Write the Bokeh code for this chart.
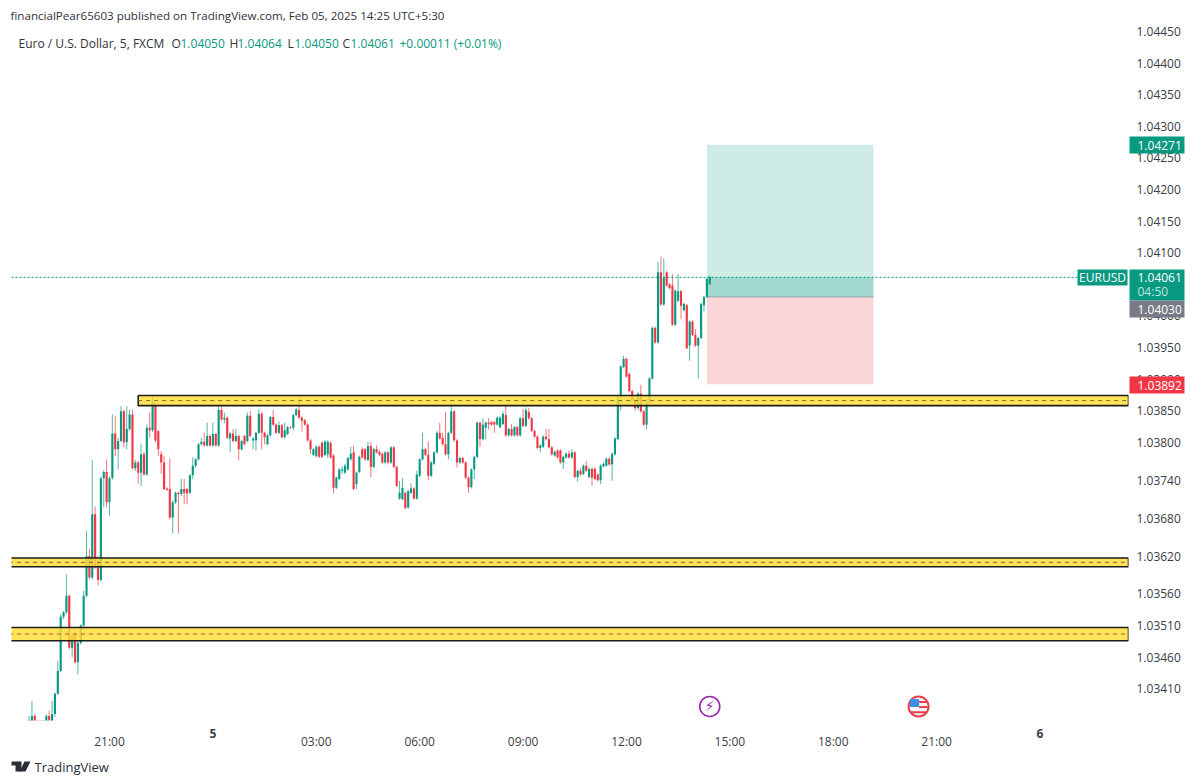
import numpy as np
from bokeh.plotting import figure
from bokeh.models import (Range1d, FixedTicker, NumeralTickFormatter, ColumnDataSource, LinearAxis)
from bokeh.core.properties import value
from bokeh.embed import file_html
from bokeh.resources import INLINE

# Prices: points above 1.03000, in units of 0.00001
opens = [350,358,367,355,352,350,352,367,355,370,
402,438,524,531,557,475,496,452,483,510,
557,620,586,686,612,582,743,753,705,743,
814,789,802,849,800,821,844,759,768,752,
781,749,823,819,860,818,781,768,727,726,
681,705,720,718,726,726,720,748,763,773,
797,801,795,810,795,813,795,851,836,839,
806,814,802,810,789,810,802,
842,803,803,815,845,815,797,811,840,828,815,827,808,813,824,823,843,851,839,835,828,803,780,778,793,799,780,781,799,779,
728,742,755,752,757,773,784,734,753,789,789,772,794,761,789,785,782,768,784,768,792,761,711,710,720,697,720,727,711,747,
773,789,780,747,766,784,815,807,797,781,815,849,803,768,775,768,744,729,757,777,831,805,823,831,832,832,828,824,829,843,
811,821,811,824,811,838,826,848,838,818,809,791,793,809,805,792,779,787,787,768,776,782,776,784,745,755,750,763,745,758,
758,749,740,762,763,774,765,781,805,872,919,932,908,881,866,854,877,849,828,863,901,981,958,1069,1018,1069,1050,1048,986,1024,
1039,1009,1017,953,991,970,953,965,1017,1030,1050]
highs = [367,391,370,358,356,354,370,375,391,404,
454,528,533,591,559,499,499,486,512,565,
660,631,772,698,620,746,756,773,746,844,
842,807,857,852,857,852,852,772,771,797,
785,828,847,873,862,819,786,778,729,775,
708,722,722,742,742,728,750,777,775,799,
807,815,831,812,831,815,857,857,847,841,
816,821,821,812,804,812,847,
850,808,817,852,848,817,813,842,851,830,833,829,831,826,826,845,854,873,841,837,830,805,791,795,795,802,803,803,802,781,
746,759,762,766,777,793,794,754,779,792,791,801,801,791,795,787,784,786,786,794,794,763,739,743,722,725,735,729,755,775,
815,791,801,770,786,818,831,815,848,817,861,851,805,777,777,770,746,759,779,833,833,838,833,838,834,834,841,841,849,858,
823,829,826,826,840,853,855,854,840,820,811,797,811,821,821,794,787,789,789,779,784,787,789,786,757,759,765,771,760,760,
760,751,765,768,776,776,784,808,874,922,937,934,910,883,868,879,891,851,865,903,983,983,1086,1094,1091,1071,1052,1066,1042,1066,
1041,1021,1019,993,993,979,967,1021,1032,1060,1064]
lows = [345,350,350,345,345,345,345,345,350,365,
400,436,520,528,473,460,450,433,480,508,
555,583,583,600,574,580,697,697,684,741,
778,757,800,792,789,818,757,755,734,731,
747,747,807,816,800,778,750,724,723,678,
656,702,656,715,702,702,718,742,760,771,
795,793,793,793,793,793,793,834,830,805,
784,800,800,771,787,795,800,
808,789,787,813,789,797,795,809,826,813,813,806,806,811,821,819,841,837,817,826,801,781,778,776,775,775,778,775,774,719,
726,740,750,750,755,771,724,726,751,774,771,770,745,759,782,778,766,766,766,766,759,729,709,708,694,695,718,709,709,745,
771,778,740,745,764,782,804,795,779,773,813,801,760,766,766,742,720,727,742,775,793,803,805,820,826,815,826,822,827,809,
809,809,809,809,809,824,824,836,816,807,789,784,791,803,790,779,777,774,766,758,774,774,774,743,738,747,748,753,743,731,
740,738,734,760,761,763,739,779,803,850,917,902,879,864,850,852,847,826,820,861,899,956,956,1016,1016,1046,1042,984,984,1022,
995,1007,947,929,968,951,900,963,1007,1028,1050]
closes = [358,367,355,352,350,352,367,355,370,402,
438,524,531,557,475,494,452,483,510,557,
620,586,686,602,582,743,753,705,743,814,
789,802,849,800,821,844,759,768,752,781,
749,823,819,865,803,789,768,726,725,681,
705,720,718,726,720,719,748,763,773,797,
801,795,810,795,813,795,851,836,839,807,
814,802,810,789,802,797,842,
810,806,815,845,815,808,811,840,828,815,827,808,819,824,823,843,852,839,834,828,803,789,789,793,777,777,801,801,776,728,
744,757,757,763,775,782,726,752,777,776,773,794,761,789,784,780,768,784,768,792,761,731,720,728,696,723,727,711,749,773,
789,780,747,768,784,815,806,797,781,815,849,803,768,775,768,744,729,757,777,831,805,828,831,829,828,828,839,839,845,811,
821,811,824,811,838,826,851,838,818,809,791,795,809,805,792,781,785,776,768,777,782,776,784,745,755,749,763,755,758,744,
742,740,763,766,774,765,782,806,872,920,932,904,881,866,854,877,849,828,863,901,981,958,1069,1018,1061,1048,1044,986,1040,1039,
1016,1019,949,991,970,953,965,1019,1030,1058,1061]
assert len(opens) == len(highs) == len(lows) == len(closes) == 238

first_bar = -1
price_ticks = [1.0445,1.0440,1.0435,1.0430,1.0425,1.0420,1.0415,1.0410,1.0400,1.0395,1.0390,
               1.0385,1.0380,1.0374,1.0368,1.0362,1.0356,1.0351,1.0346,1.0341]
time_ticks = [27, 99, 135, 171, 207, 243, 279, 315]
time_labels = ["21:00", "03:00", "06:00", "09:00", "12:00", "15:00", "18:00", "21:00"]
day_ticks = [63, 351]
day_labels = ["5", "6"]
zones = [(1.03858, 1.03874, 37), (1.03603, 1.03617, -8), (1.03486, 1.03507, -8)]
zone_dash_colors = ["#7d6a2c", "#8a6a2a", "#c4553a"]
last_price = 1.04061
entry_price = 1.04030
target_price = 1.04271
stop_price = 1.03892
box_left, box_right = 235, 293

GREEN, RED = "#089981", "#F23645"
FONT = "Open Sans"
AXIS_TEXT = "#3a3d46"
W, H = 1192, 775
X0, X1 = -7.12, 381.8

o, h, l, c = [1.03 + np.array(a) / 1e5 for a in (opens, highs, lows, closes)]
x = np.arange(len(o)) + first_bar
colors = np.where(c >= o, GREEN, RED)

p = figure(width=W, height=H, output_backend="svg", toolbar_location=None,
           x_range=Range1d(X0, X1), y_range=Range1d(1.033598, 1.044595),
           x_axis_location=None, y_axis_location=None,
           min_border_left=11, min_border_right=64, min_border_top=25, min_border_bottom=55)
p.grid.visible = False
p.outline_line_color = None
p.background_fill_color = "white"

# risk / reward box
p.quad(left=box_left, right=box_right, bottom=entry_price, top=target_price, fill_color=GREEN, fill_alpha=0.2, line_color=None)
p.quad(left=box_left, right=box_right, bottom=stop_price, top=entry_price, fill_color=RED, fill_alpha=0.2, line_color=None)
p.quad(left=box_left, right=box_right, bottom=entry_price, top=last_price, fill_color=GREEN, fill_alpha=0.22, line_color=None)
p.segment(box_left, entry_price, box_right, entry_price, line_color="#8a8d96", line_width=1, line_alpha=0.7)

# candles
src = ColumnDataSource(dict(x=x, o=o, h=h, l=l, c=c, col=colors))
p.segment("x", "l", "x", "h", source=src, line_color="col", line_width=1, line_alpha=0.7)
p.vbar("x", 0.74, "o", "c", source=src, fill_color="col", line_color=None)

# zones
for (z0, z1, zx), dash in zip(zones, zone_dash_colors):
    p.quad(left=zx, right=X1, bottom=z0, top=z1, fill_color="#FFDD33", fill_alpha=0.82,
           line_color="#1d1d1d", line_width=1.6)
    p.segment(zx, (z0 + z1) / 2, X1, (z0 + z1) / 2, line_color=dash, line_width=1, line_dash="4 4")

# last price line
p.segment(X0, last_price, X1, last_price, line_color=GREEN, line_width=1, line_dash="2 2")

# event markers
mark_y = 1.03382
bolt_x, flag_x = 236, 308.7
p.scatter([bolt_x], [mark_y], size=20, fill_color="white", line_color="#9c27b0", line_width=1.6)
p.text([bolt_x], [mark_y], text=["⚡"], text_color="#9c27b0", text_font_size="14px", text_align="center",
       text_baseline="middle", text_font=value("DejaVu Sans"))
p.scatter([flag_x], [mark_y], size=20, fill_color="#f6f6f6", line_color="#e8404f", line_width=2)
p.quad(left=[flag_x - 3], right=[flag_x + 0.2], bottom=[mark_y - 0.00001], top=[mark_y + 0.00012], fill_color="#3d8fe0", line_color=None)
p.segment([flag_x + 0.2, flag_x + 0.2], [mark_y + 0.00007, mark_y - 0.00001], [flag_x + 3.1, flag_x + 3.1],
          [mark_y + 0.00007, mark_y - 0.00001], line_color="#e8404f", line_width=2)
p.segment([flag_x - 2.7], [mark_y - 0.00009], [flag_x + 2.7], [mark_y - 0.00009], line_color="#e8404f", line_width=2)

# axes
ax_r = LinearAxis(ticker=FixedTicker(ticks=price_ticks), formatter=NumeralTickFormatter(format="0.00000"))
ax_b = LinearAxis(ticker=FixedTicker(ticks=time_ticks),
                  major_label_overrides={t: s for t, s in zip(time_ticks, time_labels)})
for ax in (ax_r, ax_b):
    ax.axis_line_color = None
    ax.major_tick_line_color = None
    ax.minor_tick_line_color = None
    ax.major_label_text_color = AXIS_TEXT
    ax.major_label_text_font = FONT
    ax.major_label_text_font_size = "12px"
ax_r.major_label_standoff = 2
ax_b.major_label_standoff = 6
p.add_layout(ax_r, "right")
p.add_layout(ax_b, "below")

# transparent overlay for what lies outside the plot frame
ov = figure(width=W, height=H, output_backend="svg", toolbar_location=None,
            x_range=Range1d(0, W), y_range=Range1d(H, 0), x_axis_location=None, y_axis_location=None,
            min_border=0, styles={"position": "absolute", "left": "0px", "top": "0px", "pointer-events": "none"})
ov.grid.visible = False
ov.outline_line_color = None
ov.background_fill_alpha = 0
ov.border_fill_alpha = 0


def label(text, px, py, color="#131722", size="12px", bold=False, align="left"):
    ov.text([px], [py], text=[text], text_color=color, text_font=value(FONT), text_font_size=size,
            text_font_style="bold" if bold else "normal", text_align=align, text_baseline="middle")


def box(x0, y0, x1, y1, color):
    ov.quad(left=[x0], right=[x1], top=[y0], bottom=[y1], fill_color=color, line_color=None)


# day ticks in bold
for t, s in zip(day_ticks, day_labels):
    label(s, 11 + (t - X0) / (X1 - X0) * 1117, 733, bold=True, align="center", color=AXIS_TEXT)

# price tags
box(1129, 136, 1184, 153, GREEN); label("1.04271", 1137, 144.5, "white")
box(1077, 269, 1127, 285, GREEN); label("EURUSD", 1102, 277, "white", align="center")
box(1129, 269, 1184, 300, GREEN); label("1.04061", 1137, 277, "white"); label("04:50", 1137, 291, "#bfe6df")
box(1129, 300, 1184, 317, "#787B86"); label("1.04030", 1137, 309, "white")
box(1129, 376, 1184, 393, RED); label("1.03892", 1137, 384.5, "white")

# header
label("financialPear65603 published on TradingView.com, Feb 05, 2025 14:25 UTC+5:30", 10, 15, "#30323a", size="11.6px")
label("Euro / U.S. Dollar, 5, FXCM", 18, 43, "#30323a")
for s, px, col in [("O", 171, "#30323a"), ("1.04050", 180, GREEN), ("H", 229, "#30323a"), ("1.04064", 237, GREEN),
                   ("L", 287, "#30323a"), ("1.04050", 294, GREEN), ("C", 342, "#30323a"), ("1.04061", 350, GREEN),
                   ("+0.00011 (+0.01%)", 399, GREEN)]:
    label(s, px, 43, col)

# footer logo and name
ink = "#2a2e39"
ov.patch([11, 21, 21, 15, 15, 11], [761, 761, 771, 771, 765, 765], fill_color=ink, line_color=None)
ov.patch([24, 30, 25, 19], [761, 761, 771, 771], fill_color=ink, line_color=None)
label("TradingView", 34, 766, "#2a2e39", size="13px")

open("out.html", "w").write(file_html([p, ov], INLINE))
